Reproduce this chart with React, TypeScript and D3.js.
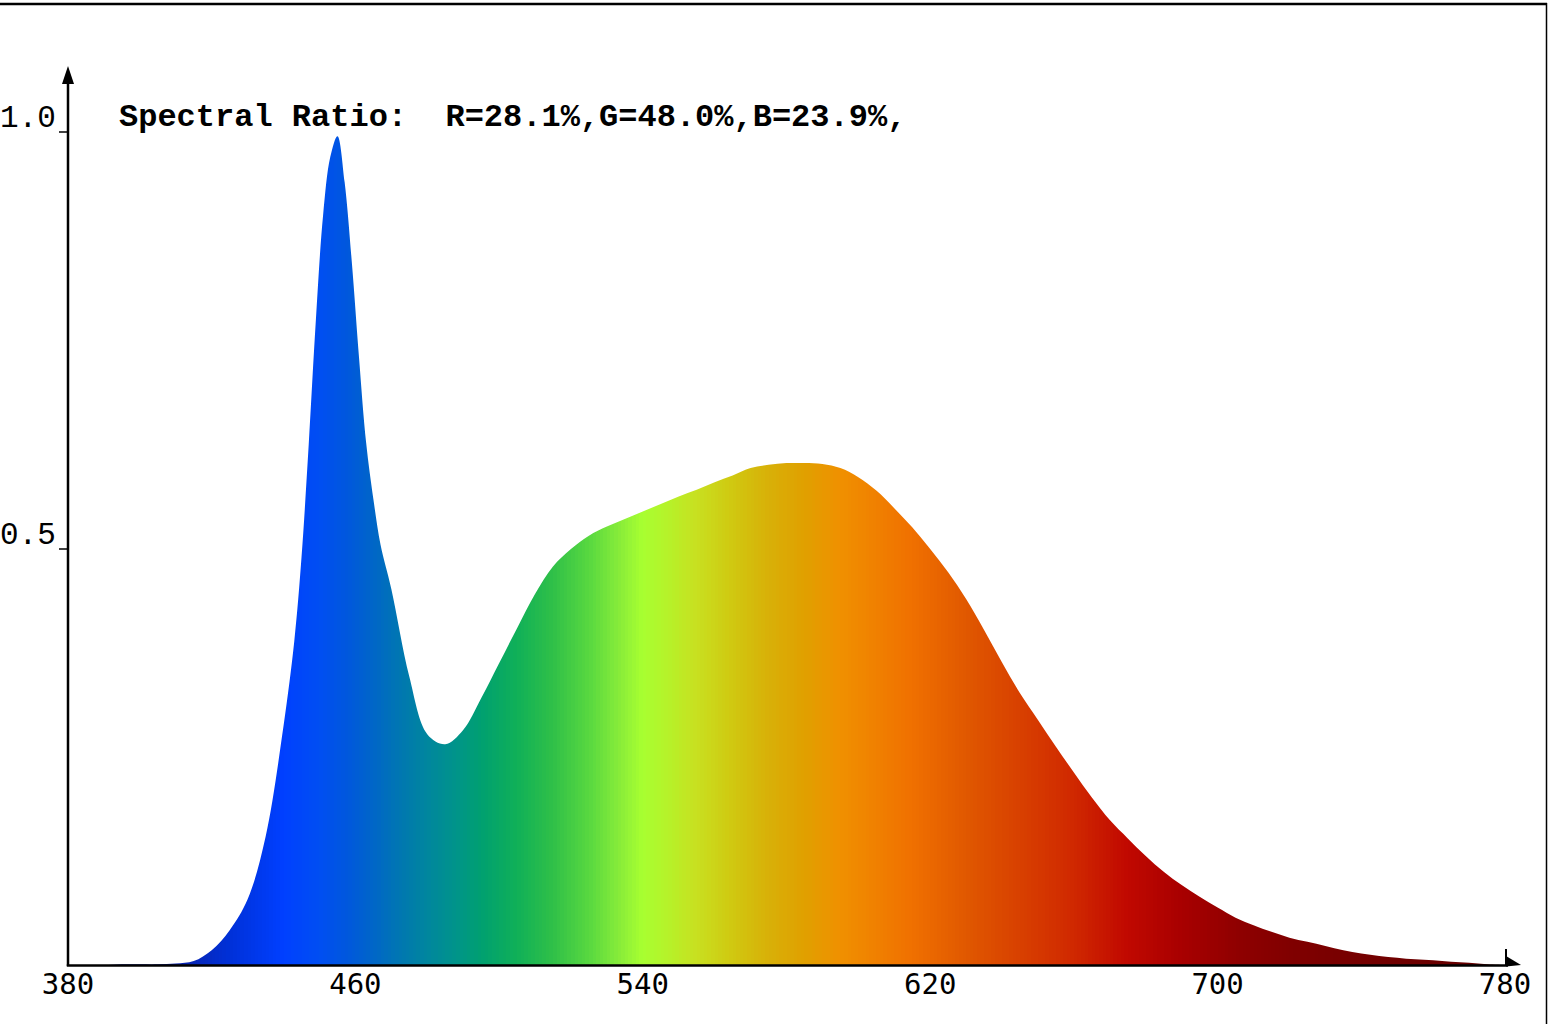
import React from "react";
import * as d3 from "d3";

const wavelengths = [
  380, 385, 390, 395, 400, 405, 410, 415, 420, 425, 430, 435, 440, 443, 445, 447, 449, 451, 453, 455,
  457, 459, 461, 463, 465, 467, 470, 475, 480, 485, 490, 495, 500, 505, 510, 515, 520, 525, 530, 535,
  540, 545, 550, 555, 560, 565, 570, 575, 580, 585, 590, 595, 600, 605, 610, 615, 620, 625, 630, 635,
  640, 645, 650, 655, 660, 665, 670, 675, 680, 685, 690, 695, 700, 705, 710, 715, 720, 725, 730, 735,
  740, 745, 750, 755, 760, 765, 770, 775, 780,
];
const intensity = [
  0.001, 0.001, 0.001, 0.002, 0.002, 0.002, 0.003, 0.006, 0.019, 0.043, 0.08, 0.155, 0.288, 0.39, 0.49, 0.625, 0.775, 0.9, 0.97, 0.995,
  0.94, 0.844, 0.73, 0.627, 0.56, 0.505, 0.452, 0.347, 0.278, 0.266, 0.283, 0.321, 0.363, 0.405, 0.446, 0.479, 0.5, 0.516, 0.527, 0.536,
  0.545, 0.554, 0.563, 0.571, 0.58, 0.588, 0.597, 0.601, 0.603, 0.603, 0.602, 0.597, 0.586, 0.57, 0.549, 0.526, 0.5, 0.472, 0.44, 0.403,
  0.364, 0.327, 0.295, 0.263, 0.232, 0.202, 0.175, 0.153, 0.132, 0.113, 0.097, 0.083, 0.07, 0.058, 0.049, 0.041, 0.034, 0.029, 0.024, 0.019,
  0.015, 0.012, 0.01, 0.008, 0.007, 0.005, 0.004, 0.002, 0.001,
];

const xTicks = [380, 460, 540, 620, 700, 780];
const yTicks = [0.5, 1.0];
const titleText = "Spectral Ratio:  R=28.1%,G=48.0%,B=23.9%,";

const colorStopsWl = [380, 410, 425, 440, 450, 458, 465, 472, 480, 488, 495, 505, 515, 525, 535, 540, 548, 555, 565, 575, 585, 595, 605, 615, 630, 645, 660, 675, 690, 705, 720, 750, 780];
const colorStops = ["#101c78", "#0a22a8", "#0030d8", "#0040ff", "#004ef2", "#0058dc", "#0066c8", "#0076b2", "#00869e", "#00948a", "#00a070", "#10b058", "#30c048", "#58d840", "#90f038", "#a8ff30", "#b8f028", "#c8e020", "#d0c810", "#d8b008", "#e0a000", "#f09000", "#f08000", "#f07000", "#e05800", "#d84000", "#d02800", "#c00800", "#a80000", "#900000", "#800000", "#700000", "#600000"];

export default function App() {
  const W = 1549;
  const H = 1024;
  const x = d3.scaleLinear().domain([380, 780]).range([68, 1505]);
  const y = d3.scaleLinear().domain([0, 1]).range([966, 132]);
  const color = d3.scaleLinear<string>().domain(colorStopsWl).range(colorStops).interpolate(d3.interpolateRgb);

  const pts = wavelengths.map((w, i) => [w, intensity[i]] as [number, number]);
  const area = d3
    .area<[number, number]>()
    .x((d) => x(d[0]))
    .y0(y(0))
    .y1((d) => y(d[1]))
    .curve(d3.curveCatmullRom.alpha(0.5));
  const areaPath = area(pts) || "";

  const bands = d3.range(380, 780, 1);

  return (
    <svg width={W} height={H} style={{ position: "absolute", left: 0, top: 0, background: "#fff" }}>
      <defs>
        <clipPath id="specClip">
          <path d={areaPath} />
        </clipPath>
      </defs>
      <rect x={0} y={0} width={W} height={H} fill="#fff" />
      <line x1={0} y1={4} x2={1547} y2={4} stroke="#000" strokeWidth={2.5} />
      <line x1={1546.5} y1={3} x2={1546.5} y2={H} stroke="#000" strokeWidth={1.5} />

      <g clipPath="url(#specClip)">
        {bands.map((b) => (
          <rect
            key={b}
            x={x(b)}
            y={100}
            width={x(b + 1) - x(b)}
            height={870}
            fill={color(b + 0.5)}
            shapeRendering="crispEdges"
          />
        ))}
      </g>

      <line x1={68} y1={966} x2={68} y2={80} stroke="#000" strokeWidth={2.5} />
      <path d="M68,66 L62,84 L74,84 Z" fill="#000" />
      <line x1={66.8} y1={965.5} x2={1508} y2={965.5} stroke="#000" strokeWidth={2.5} />
      <line x1={1506} y1={949} x2={1506} y2={966} stroke="#000" strokeWidth={2} />
      <path d="M1506,956 L1521,965 L1506,966.5 Z" fill="#000" />

      {yTicks.map((t) => (
        <g key={t}>
          <line x1={59} y1={y(t)} x2={68} y2={y(t)} stroke="#000" strokeWidth={1.5} />
          <text
            x={0}
            y={y(t) - 5}
            fontFamily="'Liberation Mono', 'Courier New', monospace"
            fontSize={31}
            fill="#000"
          >
            {t.toFixed(1)}
          </text>
        </g>
      ))}

      {xTicks.map((t) => (
        <text
          key={t}
          x={x(t)}
          y={994}
          textAnchor="middle"
          fontFamily="'DejaVu Sans Mono', monospace"
          fontSize={29}
          fill="#000"
        >
          {t}
        </text>
      ))}

      <text
        x={119}
        y={126}
        fontFamily="'Liberation Mono', 'Courier New', monospace"
        fontSize={32}
        fontWeight="bold"
        fill="#000"
        style={{ whiteSpace: "pre" }}
        xmlSpace="preserve"
      >
        {titleText}
      </text>
    </svg>
  );
}
